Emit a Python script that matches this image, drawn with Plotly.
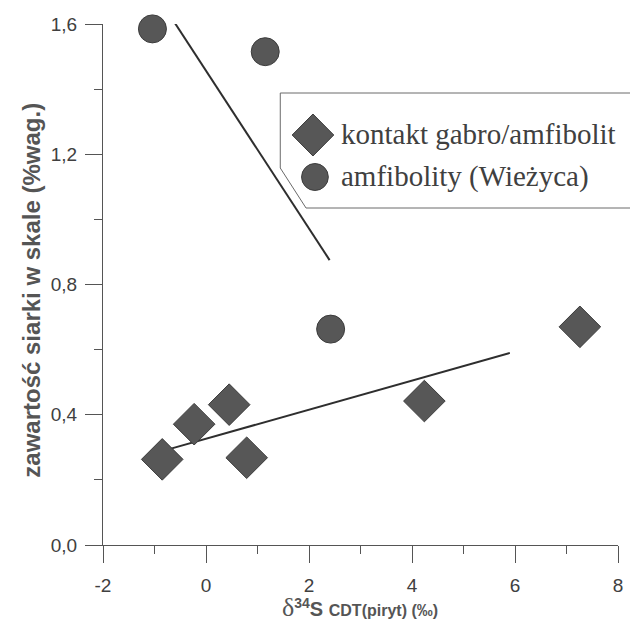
import plotly.graph_objects as go

# ---- data ----
contact_x = [-0.85, -0.23, 0.45, 0.79, 4.24, 7.26]
contact_y = [0.263, 0.371, 0.431, 0.268, 0.442, 0.670]
amf_x = [-1.04, 1.15, 2.42]
amf_y = [1.585, 1.515, 0.663]
contact_fit_x = [-0.68, 5.90]
contact_fit_y = [0.296, 0.590]
amf_fit_x = [-0.60, 2.40]
amf_fit_y = [1.602, 0.875]
x_ticks = [-2, 0, 2, 4, 6, 8]
x_tick_text = ["-2", "0", "2", "4", "6", "8"]
y_ticks = [0.0, 0.4, 0.8, 1.2, 1.6]
y_tick_text = ["0,0", "0,4", "0,8", "1,2", "1,6"]
legend_names = ["kontakt gabro/amfibolit", "amfibolity (Wieżyca)"]

W, H = 630, 630
L, R, T, B = 103, 7, 24, 85
PW, PH = W - L - R, H - T - B

def fx(px):
    return (px - L) / PW

def fy(py):
    return (H - B - py) / PH

MARK = "#575757"
EDGE = "#3c3c3c"
AX = "#555555"
TXT = "#404040"

fig = go.Figure()
fig.add_trace(go.Scatter(x=contact_fit_x, y=contact_fit_y, mode="lines",
                         line=dict(color="#2e2e2e", width=2), showlegend=False))
fig.add_trace(go.Scatter(x=amf_fit_x, y=amf_fit_y, mode="lines",
                         line=dict(color="#2e2e2e", width=2), showlegend=False))
fig.add_trace(go.Scatter(x=contact_x, y=contact_y, mode="markers", name=legend_names[0],
                         marker=dict(symbol="diamond", size=32, color=MARK,
                                     line=dict(color=EDGE, width=1)),
                         cliponaxis=False, showlegend=False))
fig.add_trace(go.Scatter(x=amf_x, y=amf_y, mode="markers", name=legend_names[1],
                         marker=dict(symbol="circle", size=28, color=MARK,
                                     line=dict(color=EDGE, width=1)),
                         cliponaxis=False, showlegend=False))

# legend box with chamfered lower-left corner
bx0, by0, bx1, by1 = 282, 93, 640, 208
path = (f"M {fx(bx0)},{fy(by0)} L {fx(bx1)},{fy(by0)} L {fx(bx1)},{fy(by1)} "
        f"L {fx(308)},{fy(by1)} L {fx(bx0)},{fy(168)} Z")
shapes = [dict(type="path", xref="paper", yref="paper", path=path,
               line=dict(color="#6a6a6a", width=1), fillcolor="rgba(255,255,255,0)")]
# legend diamond
cx, cy, hr = 315, 135, 21
dpath = (f"M {fx(cx - hr)},{fy(cy)} L {fx(cx)},{fy(cy - hr)} L {fx(cx + hr)},{fy(cy)} "
         f"L {fx(cx)},{fy(cy + hr)} Z")
shapes.append(dict(type="path", xref="paper", yref="paper", path=dpath,
                   line=dict(color=EDGE, width=1), fillcolor=MARK))
# legend circle
ccx, ccy, cr = 317, 177, 13.5
shapes.append(dict(type="circle", xref="paper", yref="paper",
                   x0=fx(ccx - cr), x1=fx(ccx + cr), y0=fy(ccy + cr), y1=fy(ccy - cr),
                   line=dict(color=EDGE, width=1), fillcolor=MARK))

annotations = [
    dict(text=legend_names[0], xref="paper", yref="paper", x=fx(341), y=fy(134),
         xanchor="left", yanchor="middle", showarrow=False,
         font=dict(family="Liberation Serif", size=29, color=TXT)),
    dict(text=legend_names[1], xref="paper", yref="paper", x=fx(341), y=fy(176),
         xanchor="left", yanchor="middle", showarrow=False,
         font=dict(family="Liberation Serif", size=29, color=TXT)),
    dict(text="<b>zawartość siarki w skale (%wag.)</b>", xref="paper", yref="paper",
         x=fx(30), y=fy(290), textangle=-90, xanchor="center", yanchor="middle",
         showarrow=False, font=dict(family="Liberation Sans", size=24, color=AX)),
    dict(text=("<span style='font-family:Liberation Serif;font-size:26px'>δ</span>"
               "<b><sup>34</sup>S <span style='font-size:16px'>CDT(piryt) (‰)</span></b>"),
         xref="paper", yref="paper", x=fx(362), y=fy(607), xanchor="center", yanchor="middle",
         showarrow=False, font=dict(family="Liberation Sans", size=20, color=AX)),
]

fig.update_layout(
    width=W, height=H, autosize=False,
    margin=dict(l=L, r=R, t=T, b=B),
    paper_bgcolor="white", plot_bgcolor="white",
    separators=",.",
    shapes=shapes, annotations=annotations,
    showlegend=False,
)
fig.update_xaxes(range=[-2, 8], tickvals=x_ticks, ticktext=x_tick_text, showgrid=False,
                 zeroline=False, showline=True, linecolor=AX, linewidth=1,
                 ticks="outside", ticklen=17, tickcolor=AX, tickwidth=1,
                 minor=dict(ticks="outside", ticklen=8, dtick=1, tickcolor=AX, showgrid=False),
                 tickfont=dict(family="Liberation Sans", size=19, color=TXT),
                 ticklabelstandoff=6, ticklabeloverflow="allow")
fig.update_yaxes(range=[0, 1.6], tickvals=y_ticks, ticktext=y_tick_text, showgrid=False,
                 zeroline=False, showline=True, linecolor=AX, linewidth=1,
                 ticks="outside", ticklen=17, tickcolor=AX, tickwidth=1,
                 minor=dict(ticks="outside", ticklen=8, dtick=0.2, tickcolor=AX, showgrid=False),
                 tickfont=dict(family="Liberation Sans", size=19, color=TXT),
                 ticklabelstandoff=4, ticklabeloverflow="allow")

fig.write_html("out.html", config={"displayModeBar": False},
               post_script="document.body.style.margin='0';document.body.style.overflow='hidden';")
